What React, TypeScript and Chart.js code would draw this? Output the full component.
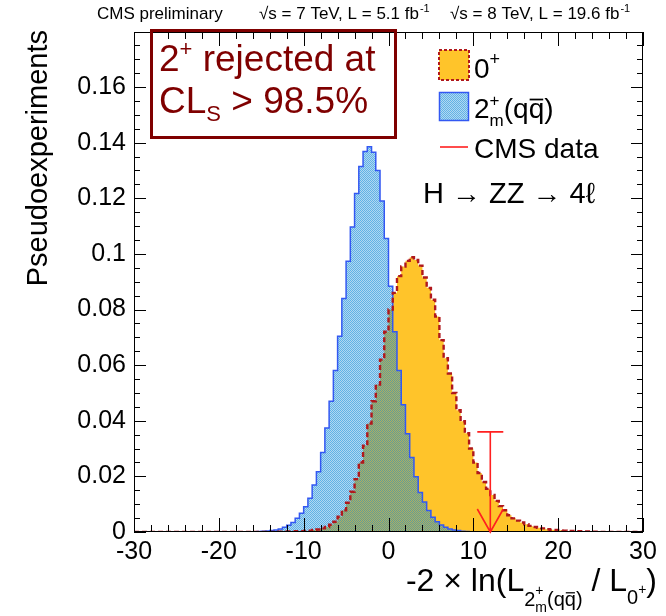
import React, { useEffect, useRef } from "react";
import { Chart, registerables } from "chart.js";

Chart.register(...registerables);

// ---------------- data ----------------
const X_MIN = -30;
const X_MAX = 30;
const Y_MIN = 0;
const Y_MAX = 0.1798;
const BIN_WIDTH = 0.5;

// 2+m(qq) pseudoexperiments, bins of 0.5 starting at blueStart
const blueStart = -16;
const blueValues = [
  0.0001, 0.0002, 0.0003, 0.0004, 0.0005, 0.0007, 0.0011, 0.0017, 0.0024, 0.0034,
  0.0049, 0.0067, 0.0091, 0.0121, 0.0169, 0.0217, 0.0286, 0.0374, 0.047, 0.0581,
  0.0704, 0.084, 0.0974, 0.1097, 0.1217, 0.1314, 0.1368, 0.1385, 0.1366, 0.130,
  0.119, 0.1055, 0.0884, 0.072, 0.0581, 0.0458, 0.0353, 0.0268, 0.0199, 0.0142,
  0.0108, 0.0077, 0.0053, 0.0037, 0.0025, 0.0017, 0.0011, 0.0007, 0.0005, 0.0003,
  0.0002, 0.0001,
];

// 0+ pseudoexperiments, bins of 0.5 starting at orangeStart
const orangeStart = -13;
const orangeValues = [
  0.0001, 0.0002, 0.0002, 0.0002, 0.0003, 0.0003, 0.0004, 0.0005, 0.0007, 0.0009,
  0.0013, 0.0018, 0.0026, 0.0037, 0.0055, 0.0078, 0.0105, 0.0145, 0.019, 0.025,
  0.031, 0.039, 0.047, 0.053, 0.062, 0.072, 0.080, 0.086, 0.092, 0.0955,
  0.0975, 0.0988, 0.0978, 0.0958, 0.0915, 0.0878, 0.0835, 0.0775, 0.069, 0.0625,
  0.057, 0.050, 0.0438, 0.0398, 0.0355, 0.030, 0.025, 0.0212, 0.018, 0.0155,
  0.0133, 0.0112, 0.0093, 0.0078, 0.006, 0.0049, 0.0041, 0.0034, 0.0028, 0.0022,
  0.0018, 0.0015, 0.0013, 0.001, 0.0008, 0.0007, 0.0006, 0.0005, 0.0004, 0.0004,
  0.0003, 0.0003, 0.0002, 0.0002, 0.0001, 0.0001,
];

// observed CMS data value
const cmsDataValue = 12;
const cmsDataArrowTop = 0.036;

const xTickStep = 10;
const xMinorStep = 2;
const yTickStep = 0.02;
const yMinorStep = 0.005;

// ---------------- styling ----------------
const FONT = '"Liberation Sans", Arial, Helvetica, sans-serif';
const ORANGE = "#ffc42a";
const ORANGE_LINE = "#b0181c";
const BLUE_LINE = "#3358f2";
const RED = "#ff2020";
const DARK_RED = "#7f0000";

function histPoints(start: number, values: number[]) {
  const pts: { x: number; y: number }[] = [{ x: X_MIN, y: 0 }];
  values.forEach((v, i) => pts.push({ x: start + i * BIN_WIDTH, y: v }));
  pts.push({ x: start + values.length * BIN_WIDTH, y: 0 });
  pts.push({ x: X_MAX, y: 0 });
  return pts;
}

function makePattern(ctx: CanvasRenderingContext2D) {
  const c = document.createElement("canvas");
  c.width = 2;
  c.height = 2;
  const p = c.getContext("2d")!;
  p.fillStyle = "rgba(10,135,215,0.64)";
  p.fillRect(0, 0, 1, 1);
  p.fillRect(1, 1, 1, 1);
  p.fillStyle = "rgba(10,135,215,0.32)";
  p.fillRect(1, 0, 1, 1);
  p.fillRect(0, 1, 1, 1);
  return ctx.createPattern(c, "repeat")!;
}

type Piece = { t: string; size: number; dy: number; noAdvance?: boolean; bar?: boolean };

function richWidth(ctx: CanvasRenderingContext2D, pieces: Piece[]) {
  let w = 0;
  for (const p of pieces) {
    ctx.font = `${p.size}px ${FONT}`;
    if (!p.noAdvance) w += ctx.measureText(p.t).width;
  }
  return w;
}

function drawRich(ctx: CanvasRenderingContext2D, pieces: Piece[], x: number, y: number) {
  let cx = x;
  for (const p of pieces) {
    ctx.font = `${p.size}px ${FONT}`;
    const w = ctx.measureText(p.t).width;
    ctx.fillText(p.t, cx, y + p.dy);
    if (p.bar) {
      ctx.save();
      ctx.strokeStyle = ctx.fillStyle as string;
      ctx.lineWidth = Math.max(1, p.size / 16);
      ctx.beginPath();
      const by = y + p.dy - p.size * 0.66;
      ctx.moveTo(cx + 1, by);
      ctx.lineTo(cx + w - 1, by);
      ctx.stroke();
      ctx.restore();
    }
    if (!p.noAdvance) cx += w;
  }
  return cx;
}

function fitText(ctx: CanvasRenderingContext2D, text: string, x: number, y: number, size: number, maxW: number) {
  ctx.font = `${size}px ${FONT}`;
  const w = ctx.measureText(text).width;
  const s = w > maxW ? maxW / w : 1;
  ctx.save();
  ctx.translate(x, y);
  ctx.scale(s, 1);
  ctx.textAlign = "left";
  ctx.fillText(text, 0, 0);
  ctx.restore();
  return w * s;
}

const decorPlugin = {
  id: "decor",
  afterDatasetsDraw(chart: any) {
    const ctx: CanvasRenderingContext2D = chart.ctx;
    const xs = chart.scales.x;
    const ys = chart.scales.y;
    const { left, right, top, bottom } = chart.chartArea;
    ctx.save();

    // frame
    ctx.strokeStyle = "#000";
    ctx.lineWidth = 1;
    ctx.strokeRect(left + 0.5, top + 0.5, right - left - 1, bottom - top - 1);

    // x ticks (bottom and top)
    ctx.beginPath();
    for (let v = X_MIN; v <= X_MAX + 1e-9; v += xMinorStep) {
      const px = Math.round(xs.getPixelForValue(v)) + 0.5;
      const major = Math.abs(v % xTickStep) < 1e-9;
      const len = major ? 14 : 7;
      ctx.moveTo(px, bottom);
      ctx.lineTo(px, bottom - len);
      ctx.moveTo(px, top);
      ctx.lineTo(px, top + len);
    }
    // y ticks (left and right)
    const nY = Math.floor(Y_MAX / yMinorStep + 1e-9);
    for (let i = 0; i <= nY; i++) {
      const v = i * yMinorStep;
      const py = Math.round(ys.getPixelForValue(v)) + 0.5;
      const major = i % Math.round(yTickStep / yMinorStep) === 0;
      const len = major ? 12 : 6;
      ctx.moveTo(left, py);
      ctx.lineTo(left + len, py);
      ctx.moveTo(right, py);
      ctx.lineTo(right - len, py);
    }
    ctx.stroke();

    // CMS data arrow
    const px = xs.getPixelForValue(cmsDataValue);
    const pTop = ys.getPixelForValue(cmsDataArrowTop);
    const p0 = ys.getPixelForValue(0);
    ctx.strokeStyle = RED;
    ctx.lineWidth = 1.6;
    ctx.beginPath();
    ctx.moveTo(px, pTop);
    ctx.lineTo(px, p0);
    ctx.moveTo(px - 13, pTop);
    ctx.lineTo(px + 13, pTop);
    ctx.moveTo(px - 13, p0 - 23);
    ctx.lineTo(px, p0);
    ctx.lineTo(px + 13, p0 - 23);
    ctx.stroke();

    // result box
    ctx.strokeStyle = DARK_RED;
    ctx.lineWidth = 3;
    ctx.strokeRect(151.5, 30.5, 244, 107);
    ctx.fillStyle = DARK_RED;
    ctx.textBaseline = "alphabetic";
    drawRich(
      ctx,
      [
        { t: "2", size: 37, dy: 0 },
        { t: "+", size: 22, dy: -15 },
        { t: " rejected at", size: 37, dy: 0 },
      ],
      159,
      71
    );
    drawRich(
      ctx,
      [
        { t: "CL", size: 37, dy: 0 },
        { t: "S", size: 22, dy: 8 },
        { t: " > 98.5%", size: 37, dy: 0 },
      ],
      159,
      113
    );

    // legend
    ctx.fillStyle = ORANGE;
    ctx.fillRect(439, 50, 30, 30);
    ctx.strokeStyle = ORANGE_LINE;
    ctx.lineWidth = 2;
    ctx.setLineDash([3, 2]);
    ctx.strokeRect(439, 50, 30, 30);
    ctx.setLineDash([]);
    ctx.fillStyle = "#fff";
    ctx.fillRect(439, 92, 30, 29);
    ctx.fillStyle = makePattern(ctx);
    ctx.fillRect(439, 92, 30, 29);
    ctx.strokeStyle = BLUE_LINE;
    ctx.lineWidth = 1.5;
    ctx.strokeRect(439.5, 92.5, 29, 28);
    ctx.strokeStyle = RED;
    ctx.lineWidth = 1.6;
    ctx.beginPath();
    ctx.moveTo(440, 147);
    ctx.lineTo(468, 147);
    ctx.stroke();

    ctx.fillStyle = "#000";
    drawRich(ctx, [{ t: "0", size: 28, dy: 0 }, { t: "+", size: 18, dy: -13 }], 474, 78);
    drawRich(
      ctx,
      [
        { t: "2", size: 28, dy: 0 },
        { t: "+", size: 17, dy: -12, noAdvance: true },
        { t: "m", size: 17, dy: 8 },
        { t: "(q", size: 28, dy: 0 },
        { t: "q", size: 28, dy: 0, bar: true },
        { t: ")", size: 28, dy: 0 },
      ],
      474,
      118
    );
    ctx.font = `28px ${FONT}`;
    ctx.fillText("CMS data", 474, 158);
    fitText(ctx, "H \u2192 ZZ \u2192 4\u2113", 423, 203, 29, 187);

    // top label
    fitText(ctx, "CMS preliminary", 97, 19, 17, 143);
    const w1 = fitText(ctx, "\u221As = 7 TeV, L = 5.1 fb", 259, 19, 17, 172);
    ctx.font = `11px ${FONT}`;
    ctx.fillText("-1", 259 + w1 + 1, 12);
    const w2 = fitText(ctx, "\u221As = 8 TeV, L = 19.6 fb", 450, 19, 17, 178);
    ctx.font = `11px ${FONT}`;
    ctx.fillText("-1", 450 + w2 + 1, 12);

    // x-axis title
    const xt: Piece[] = [
      { t: "-2 \u00D7 ln(L", size: 32, dy: 0 },
      { t: "2", size: 20, dy: 15 },
      { t: "+", size: 14, dy: 4, noAdvance: true },
      { t: "m", size: 14, dy: 21 },
      { t: "(q", size: 20, dy: 15 },
      { t: "q", size: 20, dy: 15, bar: true },
      { t: ")", size: 20, dy: 15 },
      { t: " / L", size: 32, dy: 0 },
      { t: "0", size: 20, dy: 13 },
      { t: "+", size: 14, dy: 3 },
      { t: ")", size: 32, dy: 0 },
    ];
    const xw = richWidth(ctx, xt);
    drawRich(ctx, xt, 657 - xw, 591);

    // y-axis title
    ctx.save();
    ctx.translate(47, 30);
    ctx.rotate(-Math.PI / 2);
    ctx.font = `29px ${FONT}`;
    ctx.textAlign = "right";
    ctx.fillText("Pseudoexperiments", 0, 0);
    ctx.restore();

    ctx.restore();
  },
};

export default function App() {
  const ref = useRef<HTMLCanvasElement | null>(null);

  useEffect(() => {
    document.body.style.margin = "0";
    const canvas = ref.current!;
    const ctx = canvas.getContext("2d")!;
    const pattern = makePattern(ctx);
    const orangePts = histPoints(orangeStart, orangeValues);
    const bluePts = histPoints(blueStart, blueValues);

    const chart = new Chart(ctx, {
      type: "line",
      data: {
        datasets: [
          {
            label: "0+ outline",
            data: orangePts,
            stepped: "before",
            borderColor: ORANGE_LINE,
            borderWidth: 2.4,
            borderDash: [5, 3],
            fill: false,
            pointRadius: 0,
            order: 1,
          } as any,
          {
            label: "2+m(qq)",
            data: bluePts,
            stepped: "before",
            borderColor: BLUE_LINE,
            borderWidth: 1.5,
            backgroundColor: pattern,
            fill: "origin",
            pointRadius: 0,
            order: 2,
          } as any,
          {
            label: "0+",
            data: orangePts,
            stepped: "before",
            borderWidth: 0,
            borderColor: "rgba(0,0,0,0)",
            backgroundColor: ORANGE,
            fill: "origin",
            pointRadius: 0,
            order: 3,
          } as any,
        ],
      },
      options: {
        animation: false,
        responsive: true,
        maintainAspectRatio: false,
        events: [],
        layout: { padding: { top: 32, right: 23, left: 0, bottom: 0 } },
        plugins: {
          legend: { display: false },
          tooltip: { enabled: false },
          title: { display: false },
        },
        scales: {
          x: {
            type: "linear",
            min: X_MIN,
            max: X_MAX,
            grid: { display: false, drawTicks: false },
            border: { display: false },
            ticks: {
              stepSize: xTickStep,
              autoSkip: false,
              maxRotation: 0,
              color: "#000",
              padding: 5,
              font: { family: FONT, size: 25 },
              callback: (v: any) => String(Math.round(Number(v))),
            },
            afterFit: (s: any) => {
              s.height = 84;
            },
          },
          y: {
            type: "linear",
            min: Y_MIN,
            max: Y_MAX,
            grid: { display: false, drawTicks: false },
            border: { display: false },
            ticks: {
              stepSize: yTickStep,
              includeBounds: false,
              autoSkip: false,
              color: "#000",
              padding: 8,
              font: { family: FONT, size: 25 },
              callback: (v: any) => {
                const n = Number(v);
                if (n > Y_MAX - 0.005) return "";
                return n === 0 ? "0" : String(parseFloat(n.toFixed(3)));
              },
            },
            afterFit: (s: any) => {
              s.width = 134;
            },
          },
        },
      },
      plugins: [decorPlugin],
    });
    return () => chart.destroy();
  }, []);

  return (
    <div style={{ position: "fixed", left: 0, top: 0, width: 666, height: 616, background: "#fff" }}>
      <canvas ref={ref} style={{ display: "block" }} />
    </div>
  );
}
